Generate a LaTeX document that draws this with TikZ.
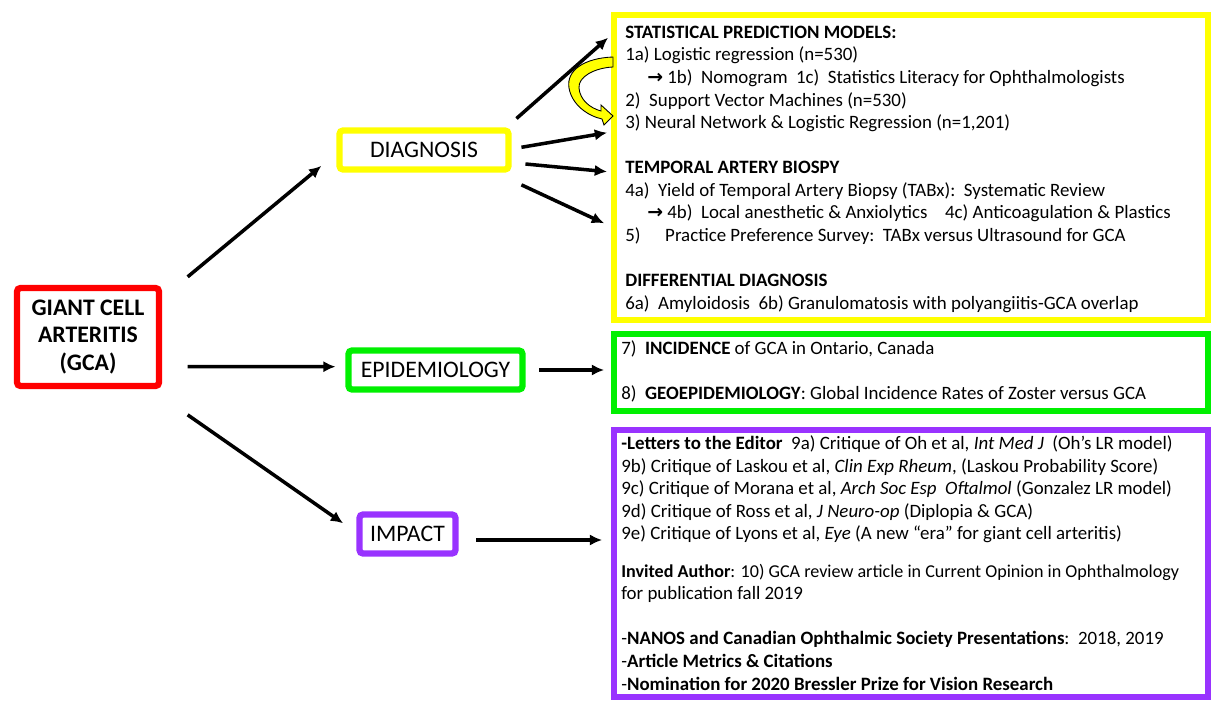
\documentclass[tikz,border=0pt]{standalone}
\usepackage{fontspec}
\setmainfont{Carlito}
\newfontfamily\arrowfont{DejaVu Sans}
\usetikzlibrary{arrows.meta}

\definecolor{gcared}{RGB}{255,0,0}
\definecolor{diagyellow}{RGB}{255,255,0}
\definecolor{epigreen}{RGB}{0,240,0}
\definecolor{imppurple}{RGB}{153,51,255}

\begin{document}
\begin{tikzpicture}[
    x=0.02cm, y=-0.02cm,
    >={Latex[length=7pt,width=6.5pt]},
    mainbox/.style={
        rectangle,
        rounded corners=2pt,
        line width=3.6pt,
        inner sep=0pt,
        align=center,
        font=\fontsize{13.5}{15.4}\selectfont
    },
    bigbox/.style={
        rectangle,
        line width=3.4pt,
        inner sep=0pt,
        minimum width=11.88cm
    },
    body/.style={
        anchor=base west,
        inner sep=0pt,
        align=left,
        font=\fontsize{10.75}{12.85}\selectfont
    },
    arr/.style={
        ->,
        line width=2pt
    }
]

\useasboundingbox (0,0) rectangle (1211,702);

% left and middle column
\node[mainbox, draw=gcared, minimum width=2.84cm, minimum height=1.96cm,
      font=\fontsize{13.5}{15.4}\selectfont\bfseries] (gca) at (88,337)
    {GIANT CELL\\ARTERITIS\\(GCA)};

\node[mainbox, draw=diagyellow, minimum width=3.38cm, minimum height=0.78cm] (diag) at (424,150)
    {DIAGNOSIS};

\node[mainbox, draw=epigreen, minimum width=3.48cm, minimum height=0.78cm] (epi) at (435.5,370)
    {EPIDEMIOLOGY};

\node[mainbox, draw=imppurple, minimum width=1.92cm, minimum height=0.78cm] (impact) at (407.5,534)
    {IMPACT};

% right column
\node[bigbox, draw=diagyellow, minimum height=6.1cm] (diagbox) at (911,167.5) {};
\node[bigbox, draw=epigreen, minimum height=1.54cm] (epibox) at (911,372.5) {};
\node[bigbox, draw=imppurple, minimum height=5.34cm] (impbox) at (911,563.5) {};

% (base = baseline of the last line)
\node[body] (diagtxt) at (625,309.3)
    {\textbf{STATISTICAL PREDICTION MODELS:}\\
     1a) Logistic regression (n=530)\\
     \hspace*{12.5pt}{\arrowfont\bfseries →} 1b)\ \ Nomogram\ \ 1c)\ \ Statistics Literacy for Ophthalmologists\\
     2)\ \ Support Vector Machines (n=530)\\
     3) Neural Network \& Logistic Regression (n=1,201)\\[12.85pt]
     \textbf{TEMPORAL ARTERY BIOSPY}\\
     4a)\ \ Yield of Temporal Artery Biopsy (TABx):\ \ Systematic Review\\
     \hspace*{12.5pt}{\arrowfont\bfseries →} 4b)\ \ Local anesthetic \& Anxiolytics\hspace{10pt}4c) Anticoagulation \& Plastics\\
     5)\hspace{14pt}Practice Preference Survey:\ \ TABx versus Ultrasound for GCA\\[12.85pt]
     \textbf{DIFFERENTIAL DIAGNOSIS}\\
     6a)\ \ Amyloidosis\ \ 6b) Granulomatosis with polyangiitis-GCA overlap};

\node[body] (epitxt) at (621,400)
    {7)\ \ \textbf{INCIDENCE} of GCA in Ontario, Canada\\[12.85pt]
     8)\ \ \textbf{GEOEPIDEMIOLOGY}: Global Incidence Rates of Zoster versus GCA};

\node[body] (imptxt) at (621,690)
    {\textbf{-Letters to the Editor}\ \ 9a) Critique of Oh et al, \textit{Int Med J}\ \ (Oh’s LR model)\\
     9b) Critique of Laskou et al, \textit{Clin Exp Rheum}, (Laskou Probability Score)\\
     9c) Critique of Morana et al, \textit{Arch Soc Esp\ \ Oftalmol} (Gonzalez LR model)\\
     9d) Critique of Ross et al, \textit{J Neuro-op} (Diplopia \& GCA)\\
     9e) Critique of Lyons et al, \textit{Eye} (A new “era” for giant cell arteritis)\\[8.3pt]
     {\fontsize{10.3}{12.85}\selectfont\textbf{Invited Author}: 10) GCA review article in Current Opinion in Ophthalmology}\\
     for publication fall 2019\\[12.85pt]
     -\textbf{NANOS and Canadian Ophthalmic Society Presentations}:\ \ 2018, 2019\\
     -\textbf{Article Metrics \& Citations}\\
     -\textbf{Nomination for 2020 Bressler Prize for Vision Research}};

% arrows from GCA
\draw[arr] ([shift={(25.5,-8)}]gca.north east) -- ([shift={(-15,-6.8)}]diag.south west);
\draw[arr] ([shift={(25.5,29.7)}]gca.east) -- ([shift={(-9.8,-3.3)}]epi.west);
\draw[arr] ([shift={(25.5,25.7)}]gca.south east) -- ([shift={(-13.2,-10.7)}]impact.west);

% arrows into the right column
\draw[arr] ([shift={(4.8,-8.8)}]diag.north east) -- ([shift={(-3,25.7)}]diagbox.north west);
\draw[arr] ([shift={(9.8,-2.7)}]diag.east) -- ([shift={(-4,-34.8)}]diagbox.west);
\draw[arr] ([shift={(13.8,14)}]diag.east) -- ([shift={(-4,4.2)}]diagbox.west);
\draw[arr] ([shift={(9.8,12.2)}]diag.south east) -- ([shift={(-7,55.8)}]diagbox.west);

\draw[arr] ([shift={(13.5,0)}]epi.east) -- ([shift={(-7,-2.5)}]epibox.west);
\draw[arr] ([shift={(17.8,6)}]impact.east) -- ([shift={(-9,-23.5)}]impbox.west);

% curved yellow arrow
\filldraw[fill=diagyellow, draw=black, line width=0.5pt]
    (613,57) .. controls (585,58) and (566,70) .. (569,88)
    .. controls (572,105) and (588,116) .. (602,119)
    -- (604,125) -- (613,116) -- (601,105) -- (601,111)
    .. controls (590,108) and (580,100) .. (579,88)
    .. controls (578,77) and (594,68) .. (613,67) -- cycle;

\end{tikzpicture}
\end{document}
